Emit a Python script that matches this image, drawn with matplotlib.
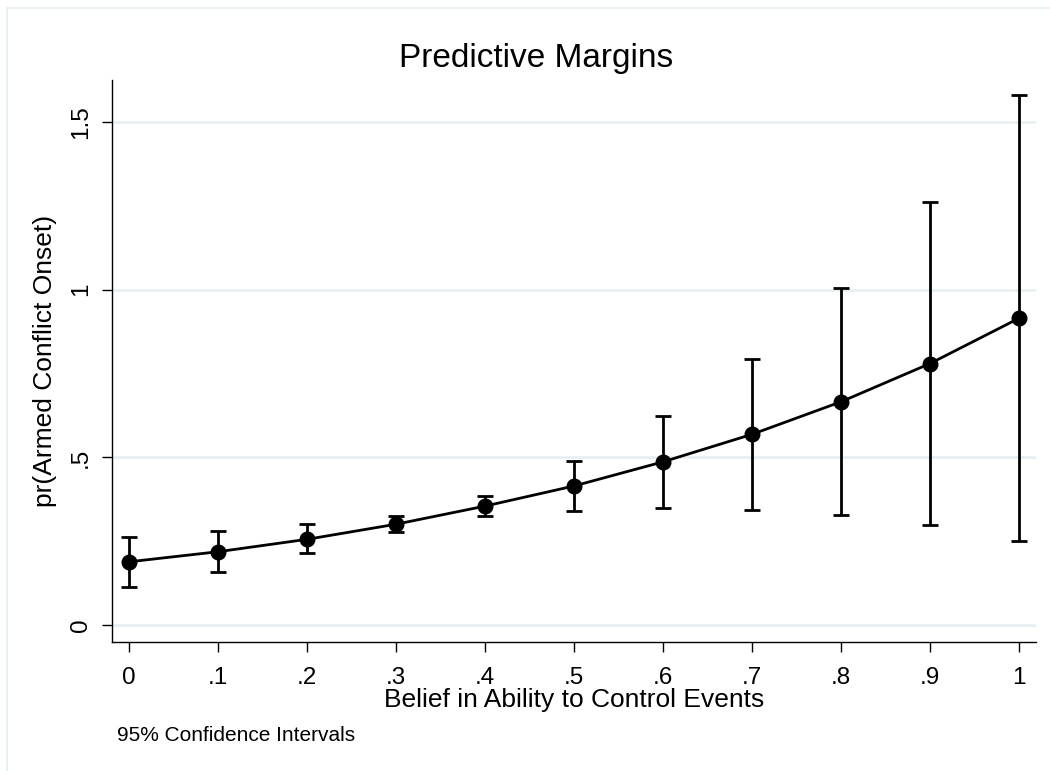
'''
Predictive margins plot with 95% confidence intervals
'''
import matplotlib
matplotlib.use('Agg')
import matplotlib.pyplot as plt
from matplotlib.lines import Line2D

# belief in ability to control events
belief = [0.0, 0.1, 0.2, 0.3, 0.4, 0.5, 0.6, 0.7, 0.8, 0.9, 1.0]
# predicted pr(armed conflict onset)
margin = [0.189, 0.219, 0.256, 0.301, 0.355, 0.415, 0.487, 0.569, 0.666, 0.780, 0.915]
ci_low = [0.113, 0.159, 0.214, 0.278, 0.326, 0.340, 0.348, 0.344, 0.330, 0.298, 0.251]
ci_high = [0.263, 0.281, 0.301, 0.325, 0.385, 0.489, 0.625, 0.793, 1.004, 1.261, 1.579]

xticks = [0, 0.1, 0.2, 0.3, 0.4, 0.5, 0.6, 0.7, 0.8, 0.9, 1.0]
xtick_labels = ['0', '.1', '.2', '.3', '.4', '.5', '.6', '.7', '.8', '.9', '1']
yticks = [0, 0.5, 1.0, 1.5]
ytick_labels = ['0', '.5', '1', '1.5']

plt.rcParams['font.family'] = ['Liberation Sans', 'DejaVu Sans']

fig = plt.figure(figsize=(10.5, 7.71), dpi=100)
fig.patch.set_facecolor('white')
ax = fig.add_axes([112/1050, 1 - 642/771, (1036 - 112)/1050, (642 - 80)/771])

# outer graph-region border (left and top edges visible)
frame_col = '#e6eef1'
fig.add_artist(Line2D([7/1050, 7/1050], [0, 1 - 8/771], transform=fig.transFigure,
                      color=frame_col, lw=1.2))
fig.add_artist(Line2D([7/1050, 1], [1 - 8/771, 1 - 8/771], transform=fig.transFigure,
                      color=frame_col, lw=1.2))

lower = [m - l for m, l in zip(margin, ci_low)]
upper = [h - m for m, h in zip(margin, ci_high)]

ax.errorbar(belief, margin, yerr=[lower, upper], fmt='none', ecolor='black',
            elinewidth=2.0, capsize=5.5, capthick=2.0, zorder=3)
ax.plot(belief, margin, 'o-', color='black', lw=2.0, markersize=10.5, zorder=4)

ax.set_xlim(-0.019, 1.019)
ax.set_ylim(-0.05, 1.625)
ax.set_xticks(xticks)
ax.set_xticklabels(xtick_labels)
ax.set_yticks(yticks)
ax.set_yticklabels(ytick_labels, rotation=90, va='center')

ax.grid(axis='y', color='#e6eef1', lw=1.8, zorder=0)
ax.set_axisbelow(True)
ax.spines['top'].set_visible(False)
ax.spines['right'].set_visible(False)
ax.spines['left'].set_linewidth(1.0)
ax.spines['bottom'].set_linewidth(1.0)
ax.tick_params(axis='both', labelsize=17.5, length=7.5, width=1.0, colors='black')
ax.tick_params(axis='x', pad=10.5)
ax.tick_params(axis='y', pad=7)

xlab = ax.set_xlabel('Belief in Ability to Control Events', fontsize=19)
xlab.set_va('baseline')
ax.xaxis.set_label_coords(0.5, (642 - 707) / 562)
ax.set_ylabel('pr(Armed Conflict Onset)', fontsize=19, labelpad=9)

fig.text(536/1050, 1 - 67/771, 'Predictive Margins', fontsize=24,
         ha='center', va='baseline')
fig.text(117/1050, 1 - 741/771, '95% Confidence Intervals', fontsize=15,
         ha='left', va='baseline')

plt.savefig('out.png', dpi=100)
